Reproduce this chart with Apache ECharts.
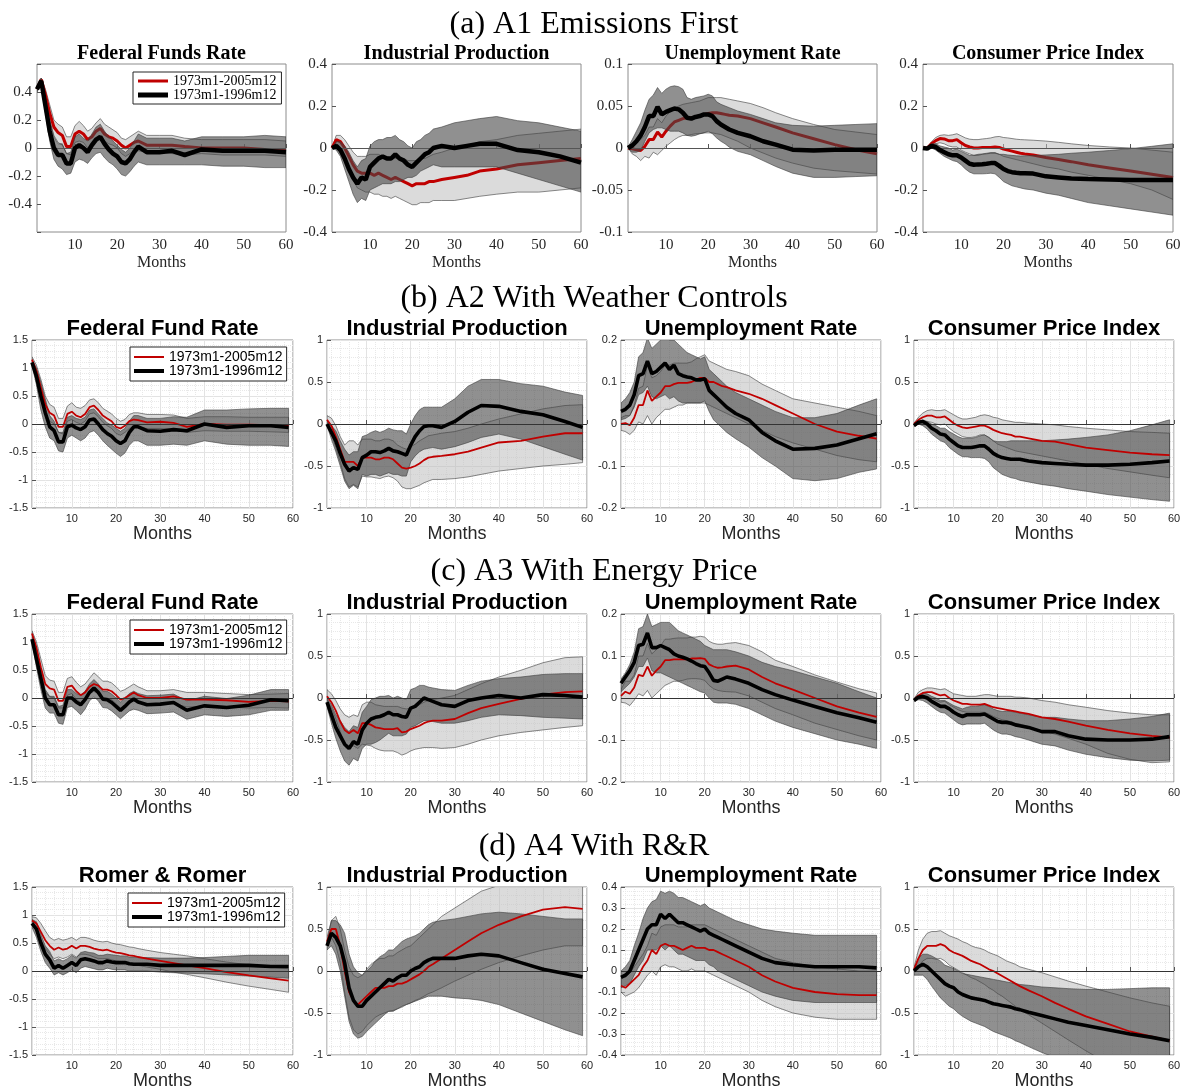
<!DOCTYPE html>
<html><head><meta charset="utf-8">
<script src="https://cdn.jsdelivr.net/npm/echarts@6/dist/echarts.min.js"></script>
<style>html,body{margin:0;padding:0;background:#fff}#c{width:1188px;height:1092px}</style>
</head><body><div id="c"></div>
<script>
// ---------- categories / labels ----------
const sectionTitles = ['(a) A1 Emissions First', '(b) A2 With Weather Controls', '(c) A3 With Energy Price', '(d) A4 With R&R'];
const panelTitles = [
  ['Federal Funds Rate', 'Industrial Production', 'Unemployment Rate', 'Consumer Price Index'],
  ['Federal Fund Rate', 'Industrial Production', 'Unemployment Rate', 'Consumer Price Index'],
  ['Federal Fund Rate', 'Industrial Production', 'Unemployment Rate', 'Consumer Price Index'],
  ['Romer & Romer', 'Industrial Production', 'Unemployment Rate', 'Consumer Price Index']
];
const seriesNames = ['1973m1-2005m12', '1973m1-1996m12'];
const xName = 'Months';
const yTicks = [
  [[-0.6, 0.6, 0.2], [-0.4, 0.4, 0.2], [-0.1, 0.1, 0.05], [-0.4, 0.4, 0.2]],
  [[-1.5, 1.5, 0.5], [-1, 1, 0.5], [-0.2, 0.2, 0.1], [-1, 1, 0.5]],
  [[-1.5, 1.5, 0.5], [-1, 1, 0.5], [-0.2, 0.2, 0.1], [-1, 1, 0.5]],
  [[-1.5, 1.5, 0.5], [-1, 1, 0.5], [-0.4, 0.4, 0.1], [-1, 1, 0.5]]
];
const monthsA = [1,2,3,4,5,6,7,8,9,10,11,12,13,14,15,16,17,18,19,20,21,22,23,24,25,27,30,33,36,40,45,50,55,60];
const monthsB = [1,2,3,4,5,6,7,8,9,10,11,12,13,14,15,16,17,18,19,20,21,22,23,24,25,27,30,33,36,40,45,50,55,59];

// ---------- (a) A1 ----------
const a1_red   = [0.42,0.49,0.38,0.25,0.15,0.11,0.09,0.01,0.01,0.10,0.12,0.10,0.06,0.08,0.12,0.14,0.10,0.08,0.07,0.05,0.02,0.00,0.02,0.04,0.05,0.02,0.02,0.02,0.01,0.00,0.00,0.00,-0.01,-0.01];
const a1_redLo = [0.41,0.47,0.33,0.20,0.09,0.04,0.02,-0.04,-0.05,0.04,0.05,0.04,0.00,0.03,0.06,0.08,0.05,0.03,0.02,0.00,-0.04,-0.06,-0.04,-0.02,-0.02,-0.03,-0.03,-0.04,-0.05,-0.04,-0.05,-0.05,-0.05,-0.06];
const a1_redHi = [0.43,0.50,0.42,0.31,0.20,0.17,0.15,0.08,0.08,0.16,0.19,0.16,0.12,0.14,0.18,0.21,0.17,0.15,0.13,0.11,0.07,0.06,0.08,0.10,0.12,0.09,0.09,0.09,0.07,0.06,0.06,0.06,0.06,0.05];
const a1_blk   = [0.42,0.48,0.30,0.12,0.00,-0.05,-0.05,-0.11,-0.11,0.00,0.02,0.00,-0.03,0.02,0.06,0.08,0.03,-0.01,-0.04,-0.06,-0.10,-0.11,-0.08,-0.03,0.01,-0.03,-0.03,-0.02,-0.05,-0.01,-0.02,-0.02,-0.02,-0.03];
const a1_blkLo = [0.40,0.46,0.25,0.05,-0.08,-0.13,-0.15,-0.19,-0.18,-0.10,-0.08,-0.09,-0.11,-0.07,-0.04,-0.03,-0.07,-0.10,-0.12,-0.15,-0.19,-0.20,-0.17,-0.13,-0.10,-0.12,-0.12,-0.12,-0.12,-0.12,-0.13,-0.13,-0.14,-0.14];
const a1_blkHi = [0.44,0.50,0.36,0.20,0.08,0.03,0.03,-0.04,-0.03,0.08,0.10,0.07,0.05,0.10,0.15,0.17,0.12,0.08,0.05,0.02,-0.01,-0.03,0.00,0.05,0.10,0.07,0.07,0.07,0.05,0.08,0.08,0.08,0.09,0.08];

const a2_red   = [0.00,0.04,0.03,0.00,-0.04,-0.08,-0.11,-0.12,-0.12,-0.12,-0.13,-0.12,-0.13,-0.14,-0.15,-0.14,-0.15,-0.16,-0.17,-0.18,-0.17,-0.17,-0.17,-0.16,-0.16,-0.15,-0.14,-0.13,-0.11,-0.10,-0.08,-0.07,-0.06,-0.05];
const a2_redLo = [0.00,0.02,0.00,-0.05,-0.10,-0.15,-0.19,-0.20,-0.21,-0.21,-0.22,-0.22,-0.23,-0.23,-0.24,-0.23,-0.24,-0.25,-0.26,-0.27,-0.27,-0.26,-0.26,-0.26,-0.25,-0.25,-0.25,-0.24,-0.23,-0.22,-0.21,-0.21,-0.20,-0.19];
const a2_redHi = [0.00,0.06,0.06,0.04,0.01,-0.02,-0.04,-0.04,-0.04,-0.03,-0.03,-0.03,-0.04,-0.04,-0.05,-0.05,-0.05,-0.05,-0.06,-0.06,-0.06,-0.05,-0.05,-0.04,-0.03,-0.02,0.00,0.01,0.03,0.04,0.06,0.07,0.08,0.09];
const a2_blk   = [0.00,0.01,-0.01,-0.05,-0.10,-0.14,-0.17,-0.14,-0.15,-0.09,-0.07,-0.05,-0.04,-0.05,-0.05,-0.03,-0.05,-0.06,-0.08,-0.09,-0.07,-0.05,-0.03,-0.02,0.00,0.01,0.00,0.01,0.02,0.02,-0.01,-0.02,-0.04,-0.07];
const a2_blkLo = [0.00,-0.01,-0.04,-0.10,-0.16,-0.22,-0.26,-0.24,-0.25,-0.20,-0.19,-0.18,-0.17,-0.17,-0.17,-0.16,-0.16,-0.15,-0.14,-0.14,-0.13,-0.11,-0.10,-0.09,-0.08,-0.09,-0.09,-0.09,-0.09,-0.09,-0.12,-0.15,-0.18,-0.21];
const a2_blkHi = [0.00,0.03,0.03,0.01,-0.02,-0.06,-0.09,-0.06,-0.05,0.01,0.03,0.04,0.04,0.05,0.05,0.06,0.04,0.03,0.01,0.00,0.03,0.04,0.06,0.07,0.09,0.10,0.12,0.13,0.14,0.15,0.13,0.12,0.10,0.08];

const a3_red   = [0.000,-0.001,-0.002,-0.003,0.002,0.010,0.010,0.019,0.013,0.020,0.026,0.031,0.033,0.035,0.036,0.036,0.037,0.038,0.040,0.041,0.042,0.042,0.041,0.040,0.039,0.038,0.035,0.030,0.025,0.018,0.011,0.004,-0.002,-0.007];
const a3_redLo = [0.000,-0.007,-0.010,-0.015,-0.010,-0.012,-0.005,-0.008,-0.003,0.002,0.006,0.010,0.013,0.015,0.015,0.016,0.017,0.017,0.018,0.018,0.018,0.017,0.016,0.014,0.012,0.008,0.000,-0.006,-0.012,-0.018,-0.024,-0.027,-0.029,-0.031];
const a3_redHi = [0.001,0.005,0.008,0.010,0.015,0.025,0.025,0.035,0.030,0.038,0.043,0.047,0.050,0.052,0.053,0.054,0.055,0.056,0.058,0.060,0.060,0.060,0.060,0.059,0.058,0.056,0.053,0.048,0.042,0.035,0.028,0.022,0.019,0.016];
const a3_blk   = [0.000,0.003,0.008,0.015,0.025,0.038,0.038,0.049,0.040,0.043,0.045,0.047,0.046,0.042,0.036,0.035,0.037,0.038,0.040,0.040,0.038,0.032,0.028,0.025,0.022,0.018,0.014,0.008,0.004,-0.002,-0.003,-0.002,-0.002,-0.002];
const a3_blkLo = [0.000,-0.005,-0.005,-0.003,0.008,0.018,0.022,0.024,0.024,0.022,0.020,0.020,0.020,0.018,0.015,0.014,0.015,0.017,0.018,0.020,0.017,0.012,0.008,0.005,0.001,-0.004,-0.008,-0.015,-0.022,-0.030,-0.035,-0.035,-0.034,-0.033];
const a3_blkHi = [0.001,0.010,0.020,0.030,0.045,0.058,0.063,0.072,0.065,0.070,0.073,0.074,0.073,0.070,0.060,0.058,0.060,0.061,0.062,0.064,0.062,0.055,0.052,0.050,0.048,0.044,0.040,0.035,0.030,0.027,0.026,0.027,0.028,0.029];

const a4_red   = [0.000,0.000,0.020,0.035,0.045,0.043,0.035,0.035,0.040,0.025,0.012,0.005,0.000,0.000,0.002,0.002,0.002,0.005,0.003,-0.005,-0.010,-0.015,-0.020,-0.025,-0.028,-0.033,-0.045,-0.055,-0.065,-0.080,-0.095,-0.110,-0.125,-0.140];
const a4_redLo = [0.000,-0.002,0.010,0.020,0.025,0.020,0.010,0.005,0.005,-0.010,-0.020,-0.028,-0.035,-0.035,-0.030,-0.028,-0.025,-0.025,-0.030,-0.040,-0.045,-0.050,-0.055,-0.060,-0.065,-0.075,-0.090,-0.100,-0.115,-0.130,-0.150,-0.170,-0.200,-0.245];
const a4_redHi = [0.000,0.005,0.030,0.050,0.060,0.063,0.060,0.063,0.068,0.058,0.048,0.042,0.040,0.040,0.043,0.045,0.048,0.053,0.055,0.050,0.048,0.045,0.042,0.040,0.039,0.037,0.033,0.027,0.020,0.012,0.005,0.000,-0.010,-0.020];
const a4_blk   = [0.000,-0.003,0.010,0.005,-0.010,-0.020,-0.030,-0.035,-0.035,-0.045,-0.060,-0.075,-0.080,-0.078,-0.077,-0.075,-0.072,-0.072,-0.085,-0.100,-0.110,-0.115,-0.118,-0.120,-0.120,-0.122,-0.135,-0.140,-0.145,-0.148,-0.150,-0.152,-0.152,-0.152];
const a4_blkLo = [0.000,-0.005,0.000,-0.010,-0.025,-0.040,-0.050,-0.060,-0.065,-0.080,-0.100,-0.115,-0.123,-0.123,-0.123,-0.122,-0.120,-0.123,-0.140,-0.160,-0.170,-0.180,-0.185,-0.190,-0.195,-0.200,-0.215,-0.225,-0.240,-0.260,-0.275,-0.290,-0.305,-0.320];
const a4_blkHi = [0.000,0.000,0.020,0.020,0.010,0.005,0.000,-0.010,-0.005,-0.015,-0.025,-0.035,-0.035,-0.030,-0.028,-0.025,-0.022,-0.022,-0.030,-0.030,-0.033,-0.035,-0.037,-0.038,-0.037,-0.036,-0.033,-0.030,-0.025,-0.020,-0.012,-0.003,0.008,0.020];

// ---------- (b) A2 ----------
const b1_red   = [1.15,0.95,0.65,0.35,0.20,0.15,-0.05,-0.05,0.18,0.22,0.15,0.12,0.18,0.30,0.33,0.25,0.15,0.10,0.05,-0.05,-0.08,-0.03,0.05,0.08,0.07,0.03,0.04,0.02,-0.05,0.00,-0.01,-0.01,-0.02,-0.02];
const b1_redLo = [1.10,0.85,0.50,0.20,0.05,0.00,-0.15,-0.18,0.05,0.08,0.03,0.00,0.05,0.18,0.20,0.13,0.03,-0.03,-0.08,-0.17,-0.20,-0.15,-0.08,-0.05,-0.05,-0.08,-0.08,-0.10,-0.15,-0.12,-0.13,-0.13,-0.14,-0.15];
const b1_redHi = [1.20,1.05,0.80,0.50,0.35,0.30,0.10,0.10,0.32,0.38,0.30,0.28,0.33,0.43,0.45,0.38,0.28,0.23,0.18,0.10,0.05,0.08,0.17,0.20,0.20,0.17,0.17,0.16,0.10,0.13,0.13,0.12,0.12,0.12];
const b1_blk   = [1.10,0.85,0.50,0.20,-0.05,-0.12,-0.32,-0.32,-0.05,-0.02,-0.07,-0.10,-0.05,0.07,0.09,0.00,-0.10,-0.17,-0.22,-0.30,-0.35,-0.30,-0.15,-0.05,-0.05,-0.12,-0.13,-0.10,-0.12,0.00,-0.06,-0.03,-0.03,-0.06];
const b1_blkLo = [1.05,0.70,0.25,-0.05,-0.25,-0.30,-0.48,-0.50,-0.25,-0.20,-0.25,-0.30,-0.25,-0.15,-0.12,-0.20,-0.30,-0.38,-0.45,-0.52,-0.58,-0.52,-0.38,-0.30,-0.30,-0.38,-0.38,-0.36,-0.38,-0.30,-0.36,-0.38,-0.38,-0.40];
const b1_blkHi = [1.15,1.00,0.75,0.45,0.15,0.05,-0.15,-0.15,0.12,0.15,0.10,0.08,0.12,0.25,0.27,0.18,0.10,0.02,-0.02,-0.08,-0.13,-0.08,0.05,0.15,0.15,0.10,0.10,0.13,0.12,0.25,0.25,0.27,0.28,0.28];

const b2_red   = [0.05,-0.02,-0.15,-0.30,-0.45,-0.45,-0.45,-0.50,-0.40,-0.40,-0.40,-0.42,-0.42,-0.40,-0.40,-0.42,-0.47,-0.52,-0.53,-0.52,-0.50,-0.47,-0.43,-0.40,-0.39,-0.38,-0.36,-0.33,-0.28,-0.22,-0.20,-0.15,-0.11,-0.11];
const b2_redLo = [0.00,-0.12,-0.28,-0.45,-0.65,-0.75,-0.72,-0.75,-0.62,-0.63,-0.63,-0.64,-0.65,-0.63,-0.62,-0.64,-0.68,-0.75,-0.77,-0.77,-0.75,-0.73,-0.70,-0.68,-0.66,-0.66,-0.65,-0.63,-0.60,-0.56,-0.53,-0.50,-0.48,-0.46];
const b2_redHi = [0.10,0.07,-0.02,-0.15,-0.25,-0.20,-0.20,-0.25,-0.18,-0.18,-0.18,-0.20,-0.20,-0.18,-0.18,-0.20,-0.25,-0.28,-0.30,-0.27,-0.24,-0.20,-0.17,-0.14,-0.13,-0.11,-0.09,-0.05,0.00,0.06,0.12,0.18,0.22,0.23];
const b2_blk   = [0.00,-0.10,-0.20,-0.35,-0.48,-0.56,-0.52,-0.54,-0.40,-0.37,-0.33,-0.33,-0.34,-0.32,-0.29,-0.32,-0.33,-0.35,-0.37,-0.25,-0.15,-0.08,-0.03,-0.02,-0.02,-0.04,0.03,0.14,0.22,0.21,0.15,0.11,0.03,-0.04];
const b2_blkLo = [-0.02,-0.18,-0.33,-0.50,-0.68,-0.77,-0.73,-0.77,-0.60,-0.62,-0.60,-0.60,-0.62,-0.60,-0.58,-0.60,-0.60,-0.62,-0.62,-0.45,-0.38,-0.33,-0.30,-0.29,-0.28,-0.30,-0.27,-0.22,-0.16,-0.12,-0.18,-0.27,-0.36,-0.43];
const b2_blkHi = [0.04,-0.02,-0.08,-0.20,-0.30,-0.37,-0.33,-0.33,-0.15,-0.13,-0.10,-0.08,-0.10,-0.08,-0.05,-0.07,-0.08,-0.08,-0.12,0.00,0.10,0.17,0.20,0.20,0.20,0.20,0.30,0.45,0.53,0.53,0.48,0.45,0.38,0.34];

const b3_red   = [0.000,0.002,-0.003,0.015,0.045,0.045,0.080,0.055,0.065,0.075,0.090,0.090,0.095,0.098,0.098,0.098,0.100,0.105,0.110,0.110,0.100,0.100,0.095,0.090,0.088,0.080,0.072,0.060,0.045,0.025,0.000,-0.018,-0.028,-0.035];
const b3_redLo = [-0.015,-0.018,-0.025,-0.015,0.005,0.000,0.020,0.000,0.015,0.025,0.035,0.035,0.040,0.045,0.045,0.050,0.050,0.050,0.050,0.050,0.045,0.040,0.035,0.030,0.025,0.015,0.000,-0.015,-0.030,-0.045,-0.060,-0.075,-0.085,-0.090];
const b3_redHi = [0.015,0.020,0.020,0.045,0.085,0.090,0.140,0.110,0.115,0.125,0.140,0.140,0.145,0.145,0.145,0.145,0.148,0.155,0.160,0.165,0.150,0.145,0.140,0.135,0.130,0.125,0.115,0.095,0.080,0.060,0.050,0.040,0.030,0.020];
const b3_blk   = [0.030,0.035,0.045,0.070,0.115,0.120,0.150,0.120,0.125,0.135,0.145,0.130,0.140,0.120,0.115,0.112,0.110,0.105,0.105,0.108,0.080,0.070,0.060,0.050,0.040,0.025,0.010,-0.020,-0.040,-0.060,-0.058,-0.050,-0.035,-0.023];
const b3_blkLo = [0.010,0.013,0.020,0.040,0.070,0.075,0.090,0.065,0.060,0.065,0.070,0.060,0.065,0.055,0.050,0.050,0.050,0.050,0.050,0.055,0.030,0.010,0.000,-0.010,-0.020,-0.035,-0.055,-0.080,-0.100,-0.130,-0.135,-0.130,-0.115,-0.107];
const b3_blkHi = [0.050,0.060,0.075,0.100,0.160,0.170,0.205,0.180,0.190,0.200,0.210,0.200,0.200,0.190,0.180,0.170,0.165,0.160,0.155,0.160,0.130,0.120,0.110,0.100,0.090,0.075,0.060,0.045,0.030,0.015,0.015,0.025,0.045,0.060];

const b4_red   = [0.00,0.05,0.08,0.10,0.10,0.08,0.08,0.09,0.05,0.01,-0.02,-0.04,-0.05,-0.04,-0.03,-0.02,-0.02,-0.04,-0.07,-0.09,-0.11,-0.12,-0.13,-0.15,-0.15,-0.17,-0.20,-0.21,-0.24,-0.28,-0.31,-0.34,-0.36,-0.37];
const b4_redLo = [-0.02,0.01,0.02,0.03,0.02,0.00,-0.01,0.00,-0.05,-0.09,-0.12,-0.15,-0.16,-0.16,-0.15,-0.13,-0.13,-0.16,-0.20,-0.24,-0.26,-0.28,-0.30,-0.32,-0.33,-0.35,-0.38,-0.41,-0.44,-0.48,-0.53,-0.57,-0.61,-0.64];
const b4_redHi = [0.01,0.08,0.13,0.16,0.17,0.16,0.16,0.17,0.14,0.11,0.08,0.06,0.06,0.07,0.08,0.10,0.11,0.10,0.08,0.07,0.05,0.04,0.03,0.02,0.02,0.01,0.00,-0.01,-0.03,-0.05,-0.07,-0.09,-0.10,-0.11];
const b4_blk   = [-0.02,0.02,0.03,0.00,-0.05,-0.08,-0.12,-0.13,-0.18,-0.22,-0.26,-0.28,-0.28,-0.28,-0.27,-0.26,-0.26,-0.30,-0.35,-0.38,-0.40,-0.41,-0.42,-0.42,-0.42,-0.44,-0.46,-0.47,-0.48,-0.49,-0.49,-0.48,-0.46,-0.44];
const b4_blkLo = [-0.03,0.00,-0.02,-0.06,-0.12,-0.16,-0.20,-0.22,-0.28,-0.32,-0.36,-0.39,-0.39,-0.40,-0.40,-0.40,-0.41,-0.45,-0.52,-0.56,-0.60,-0.62,-0.64,-0.65,-0.67,-0.69,-0.72,-0.74,-0.77,-0.80,-0.84,-0.87,-0.90,-0.92];
const b4_blkHi = [-0.01,0.03,0.05,0.03,0.00,-0.02,-0.05,-0.05,-0.09,-0.12,-0.15,-0.17,-0.17,-0.17,-0.16,-0.14,-0.13,-0.16,-0.20,-0.21,-0.21,-0.21,-0.20,-0.20,-0.20,-0.20,-0.20,-0.19,-0.18,-0.16,-0.13,-0.08,-0.01,0.05];

// ---------- (c) A3 ----------
const c1_red   = [1.15,0.90,0.55,0.25,0.17,0.15,-0.05,-0.05,0.20,0.22,0.12,0.05,0.10,0.20,0.25,0.22,0.15,0.15,0.12,0.05,-0.03,0.00,0.05,0.10,0.05,0.00,0.00,0.03,-0.03,-0.03,-0.04,-0.07,-0.05,-0.06];
const c1_redLo = [1.10,0.80,0.40,0.10,0.02,0.00,-0.18,-0.18,0.05,0.08,-0.02,-0.08,-0.02,0.08,0.12,0.08,0.00,0.00,-0.03,-0.10,-0.18,-0.13,-0.08,-0.04,-0.08,-0.12,-0.12,-0.10,-0.16,-0.15,-0.16,-0.18,-0.17,-0.18];
const c1_redHi = [1.20,1.00,0.70,0.40,0.32,0.30,0.10,0.10,0.35,0.38,0.28,0.20,0.25,0.35,0.45,0.38,0.30,0.30,0.27,0.20,0.12,0.15,0.20,0.25,0.20,0.13,0.13,0.15,0.10,0.10,0.08,0.06,0.07,0.08];
const c1_blk   = [1.05,0.70,0.35,0.00,-0.12,-0.12,-0.30,-0.30,0.00,0.00,-0.07,-0.12,-0.03,0.10,0.18,0.10,-0.02,-0.03,-0.08,-0.15,-0.22,-0.15,-0.07,-0.02,-0.07,-0.12,-0.11,-0.08,-0.22,-0.14,-0.17,-0.13,-0.03,-0.05];
const c1_blkLo = [1.00,0.55,0.15,-0.18,-0.27,-0.27,-0.45,-0.47,-0.17,-0.15,-0.22,-0.30,-0.20,-0.05,0.02,-0.05,-0.17,-0.18,-0.23,-0.30,-0.37,-0.30,-0.23,-0.20,-0.22,-0.28,-0.27,-0.25,-0.38,-0.30,-0.33,-0.30,-0.22,-0.22];
const c1_blkHi = [1.10,0.85,0.50,0.15,0.03,0.03,-0.15,-0.13,0.15,0.15,0.08,0.05,0.12,0.25,0.33,0.25,0.12,0.12,0.07,0.00,-0.07,0.00,0.08,0.12,0.08,0.04,0.05,0.07,-0.05,0.03,-0.01,0.05,0.15,0.15];

const c2_red   = [0.02,-0.05,-0.15,-0.28,-0.38,-0.42,-0.38,-0.42,-0.30,-0.30,-0.32,-0.35,-0.36,-0.37,-0.37,-0.37,-0.36,-0.41,-0.40,-0.37,-0.35,-0.33,-0.30,-0.28,-0.27,-0.27,-0.25,-0.18,-0.12,-0.07,-0.01,0.04,0.07,0.08];
const c2_redLo = [-0.02,-0.12,-0.25,-0.40,-0.55,-0.60,-0.57,-0.60,-0.55,-0.56,-0.57,-0.60,-0.62,-0.63,-0.63,-0.63,-0.65,-0.68,-0.66,-0.63,-0.61,-0.60,-0.59,-0.59,-0.59,-0.60,-0.59,-0.55,-0.50,-0.45,-0.41,-0.38,-0.35,-0.33];
const c2_redHi = [0.10,0.05,-0.03,-0.13,-0.20,-0.23,-0.20,-0.22,-0.08,-0.05,-0.05,-0.08,-0.09,-0.10,-0.10,-0.10,-0.10,-0.12,-0.13,-0.12,-0.10,-0.08,-0.05,-0.03,-0.02,0.00,0.03,0.10,0.17,0.25,0.33,0.42,0.48,0.49];
const c2_blk   = [-0.05,-0.20,-0.35,-0.45,-0.55,-0.60,-0.52,-0.55,-0.38,-0.30,-0.25,-0.23,-0.22,-0.20,-0.17,-0.20,-0.20,-0.22,-0.23,-0.12,-0.10,-0.05,0.00,-0.02,-0.04,-0.08,-0.10,-0.03,0.00,0.03,0.00,0.04,0.03,0.01];
const c2_blkLo = [-0.10,-0.30,-0.48,-0.63,-0.75,-0.80,-0.72,-0.75,-0.60,-0.55,-0.55,-0.53,-0.50,-0.46,-0.42,-0.45,-0.45,-0.45,-0.43,-0.35,-0.33,-0.30,-0.27,-0.27,-0.28,-0.30,-0.30,-0.27,-0.23,-0.20,-0.21,-0.23,-0.24,-0.25];
const c2_blkHi = [0.00,-0.08,-0.20,-0.27,-0.35,-0.40,-0.33,-0.35,-0.17,-0.10,-0.02,0.00,0.02,0.02,0.03,0.00,0.02,0.00,-0.02,0.10,0.12,0.15,0.15,0.13,0.12,0.10,0.09,0.15,0.20,0.23,0.25,0.28,0.29,0.29];

const c3_red   = [0.005,0.015,0.010,0.025,0.055,0.052,0.075,0.053,0.065,0.075,0.090,0.090,0.092,0.092,0.092,0.092,0.094,0.094,0.095,0.093,0.080,0.075,0.072,0.073,0.075,0.077,0.068,0.050,0.035,0.020,0.000,-0.020,-0.035,-0.045];
const c3_redLo = [-0.010,-0.012,-0.018,-0.005,0.010,0.005,0.018,0.000,0.010,0.020,0.030,0.035,0.040,0.040,0.042,0.045,0.046,0.046,0.045,0.042,0.030,0.022,0.018,0.016,0.015,0.014,0.005,-0.010,-0.025,-0.040,-0.060,-0.075,-0.090,-0.100];
const c3_redHi = [0.020,0.040,0.040,0.055,0.100,0.100,0.130,0.105,0.115,0.125,0.140,0.140,0.142,0.143,0.143,0.143,0.145,0.145,0.147,0.145,0.135,0.130,0.128,0.128,0.130,0.132,0.125,0.110,0.090,0.075,0.055,0.038,0.022,0.012];
const c3_blk   = [0.035,0.050,0.065,0.085,0.125,0.128,0.155,0.120,0.120,0.125,0.120,0.115,0.105,0.100,0.097,0.093,0.088,0.082,0.077,0.075,0.060,0.042,0.040,0.045,0.050,0.045,0.035,0.020,0.008,-0.005,-0.020,-0.035,-0.047,-0.058];
const c3_blkLo = [0.015,0.025,0.035,0.050,0.075,0.075,0.095,0.065,0.060,0.060,0.055,0.050,0.045,0.040,0.035,0.030,0.025,0.020,0.015,0.012,0.000,-0.010,-0.012,-0.012,-0.012,-0.015,-0.025,-0.040,-0.055,-0.070,-0.085,-0.100,-0.110,-0.120];
const c3_blkHi = [0.045,0.060,0.080,0.110,0.165,0.170,0.200,0.170,0.175,0.180,0.180,0.180,0.170,0.160,0.155,0.150,0.145,0.140,0.135,0.125,0.120,0.115,0.115,0.115,0.115,0.110,0.100,0.085,0.075,0.065,0.050,0.035,0.015,0.000];

const c4_red   = [-0.02,0.03,0.06,0.07,0.07,0.05,0.03,0.04,0.00,-0.03,-0.05,-0.07,-0.07,-0.08,-0.08,-0.08,-0.07,-0.09,-0.11,-0.12,-0.13,-0.14,-0.15,-0.16,-0.17,-0.19,-0.23,-0.25,-0.28,-0.33,-0.38,-0.42,-0.45,-0.47];
const c4_redLo = [-0.03,0.00,0.02,0.02,0.00,-0.03,-0.05,-0.04,-0.08,-0.11,-0.14,-0.16,-0.17,-0.17,-0.17,-0.17,-0.17,-0.19,-0.22,-0.24,-0.26,-0.27,-0.28,-0.30,-0.31,-0.34,-0.39,-0.43,-0.48,-0.55,-0.66,-0.73,-0.77,-0.76];
const c4_redHi = [-0.01,0.07,0.10,0.12,0.12,0.11,0.10,0.11,0.08,0.05,0.04,0.03,0.02,0.02,0.02,0.03,0.04,0.04,0.03,0.02,0.02,0.02,0.02,0.01,0.01,0.00,-0.03,-0.05,-0.08,-0.11,-0.15,-0.18,-0.20,-0.20];
const c4_blk   = [-0.03,0.01,0.02,0.00,-0.04,-0.07,-0.10,-0.10,-0.13,-0.17,-0.20,-0.22,-0.20,-0.20,-0.20,-0.20,-0.19,-0.22,-0.25,-0.28,-0.29,-0.29,-0.30,-0.32,-0.33,-0.35,-0.40,-0.40,-0.45,-0.49,-0.50,-0.50,-0.49,-0.46];
const c4_blkLo = [-0.04,-0.02,-0.03,-0.06,-0.10,-0.14,-0.17,-0.18,-0.22,-0.26,-0.30,-0.32,-0.31,-0.31,-0.31,-0.31,-0.30,-0.34,-0.38,-0.41,-0.43,-0.43,-0.44,-0.46,-0.47,-0.50,-0.55,-0.57,-0.62,-0.67,-0.71,-0.74,-0.75,-0.74];
const c4_blkHi = [-0.02,0.03,0.06,0.05,0.02,0.00,-0.03,-0.03,-0.06,-0.09,-0.11,-0.13,-0.11,-0.10,-0.10,-0.09,-0.08,-0.10,-0.13,-0.15,-0.16,-0.16,-0.16,-0.17,-0.18,-0.20,-0.23,-0.23,-0.25,-0.27,-0.27,-0.25,-0.22,-0.18];

// ---------- (d) A4 ----------
const d1_red   = [0.90,0.85,0.70,0.55,0.45,0.38,0.42,0.38,0.40,0.45,0.40,0.45,0.45,0.43,0.40,0.38,0.37,0.38,0.35,0.33,0.32,0.30,0.28,0.27,0.25,0.22,0.18,0.14,0.10,0.05,-0.02,-0.08,-0.13,-0.17];
const d1_redLo = [0.85,0.75,0.55,0.40,0.30,0.22,0.25,0.22,0.25,0.30,0.25,0.30,0.30,0.28,0.25,0.22,0.22,0.22,0.20,0.18,0.17,0.15,0.13,0.12,0.10,0.07,0.03,-0.02,-0.06,-0.12,-0.20,-0.27,-0.33,-0.38];
const d1_redHi = [0.97,0.95,0.85,0.72,0.60,0.55,0.58,0.55,0.57,0.60,0.55,0.60,0.60,0.58,0.55,0.53,0.52,0.53,0.50,0.48,0.47,0.45,0.43,0.42,0.40,0.37,0.33,0.30,0.27,0.22,0.16,0.11,0.07,0.04];
const d1_blk   = [0.85,0.75,0.50,0.30,0.20,0.05,0.10,0.05,0.10,0.15,0.10,0.20,0.22,0.20,0.18,0.15,0.15,0.18,0.16,0.15,0.15,0.15,0.13,0.12,0.12,0.12,0.10,0.10,0.10,0.10,0.10,0.10,0.08,0.08];
const d1_blkLo = [0.78,0.60,0.35,0.15,0.05,-0.07,-0.03,-0.07,-0.03,0.02,-0.03,0.05,0.08,0.06,0.04,0.02,0.02,0.05,0.03,0.02,0.02,0.02,0.00,0.00,0.00,0.00,-0.02,-0.03,-0.04,-0.05,-0.07,-0.09,-0.11,-0.13];
const d1_blkHi = [0.92,0.88,0.65,0.45,0.35,0.18,0.22,0.18,0.22,0.28,0.23,0.33,0.35,0.33,0.32,0.28,0.28,0.30,0.29,0.28,0.27,0.27,0.25,0.25,0.24,0.24,0.23,0.23,0.23,0.24,0.26,0.28,0.28,0.28];

const d2_red   = [0.35,0.50,0.50,0.30,0.00,-0.25,-0.35,-0.40,-0.35,-0.30,-0.25,-0.20,-0.20,-0.20,-0.18,-0.18,-0.15,-0.15,-0.13,-0.10,-0.07,-0.04,0.00,0.05,0.08,0.15,0.25,0.35,0.45,0.55,0.65,0.73,0.76,0.74];
const d2_redLo = [0.30,0.40,0.30,0.10,-0.25,-0.55,-0.70,-0.75,-0.72,-0.65,-0.60,-0.55,-0.52,-0.50,-0.48,-0.47,-0.45,-0.43,-0.40,-0.38,-0.35,-0.33,-0.30,-0.27,-0.25,-0.20,-0.12,-0.05,0.02,0.10,0.18,0.25,0.30,0.30];
const d2_redHi = [0.40,0.60,0.65,0.50,0.25,0.05,-0.05,-0.08,-0.05,0.02,0.08,0.12,0.15,0.15,0.18,0.18,0.22,0.25,0.28,0.30,0.35,0.40,0.45,0.50,0.55,0.65,0.75,0.85,0.95,1.02,1.08,1.12,1.12,1.10];
const d2_blk   = [0.30,0.45,0.40,0.30,0.10,-0.20,-0.35,-0.42,-0.42,-0.35,-0.30,-0.25,-0.20,-0.15,-0.10,-0.12,-0.08,-0.05,-0.05,0.00,0.03,0.05,0.10,0.13,0.15,0.15,0.15,0.18,0.20,0.18,0.10,0.02,-0.03,-0.07];
const d2_blkLo = [0.25,0.30,0.20,0.00,-0.30,-0.60,-0.75,-0.80,-0.78,-0.72,-0.67,-0.62,-0.57,-0.52,-0.48,-0.48,-0.45,-0.42,-0.40,-0.38,-0.36,-0.34,-0.32,-0.30,-0.30,-0.30,-0.32,-0.33,-0.35,-0.40,-0.50,-0.60,-0.70,-0.77];
const d2_blkHi = [0.35,0.60,0.60,0.55,0.45,0.20,0.05,-0.02,-0.05,0.00,0.05,0.12,0.17,0.20,0.25,0.25,0.30,0.35,0.38,0.40,0.42,0.45,0.50,0.55,0.58,0.60,0.62,0.65,0.68,0.70,0.68,0.65,0.62,0.62];

const d3_red   = [-0.07,-0.08,-0.06,-0.04,-0.02,0.02,0.05,0.10,0.08,0.12,0.13,0.12,0.12,0.11,0.10,0.11,0.12,0.11,0.11,0.11,0.10,0.10,0.09,0.08,0.07,0.05,0.02,-0.02,-0.05,-0.08,-0.10,-0.11,-0.115,-0.115];
const d3_redLo = [-0.10,-0.12,-0.11,-0.10,-0.08,-0.05,-0.02,0.00,-0.02,0.02,0.03,0.02,0.02,0.01,0.00,0.00,0.01,0.00,0.00,0.00,-0.01,-0.02,-0.03,-0.04,-0.05,-0.07,-0.10,-0.14,-0.17,-0.20,-0.22,-0.23,-0.23,-0.23];
const d3_redHi = [-0.03,-0.03,-0.01,0.02,0.05,0.08,0.12,0.18,0.17,0.21,0.22,0.22,0.22,0.21,0.21,0.21,0.22,0.22,0.22,0.22,0.21,0.20,0.19,0.18,0.17,0.15,0.12,0.09,0.06,0.04,0.02,0.01,0.00,0.00];
const d3_blk   = [-0.03,-0.02,0.00,0.05,0.10,0.15,0.20,0.22,0.22,0.27,0.25,0.27,0.25,0.23,0.23,0.22,0.21,0.20,0.19,0.20,0.18,0.17,0.16,0.15,0.14,0.12,0.09,0.06,0.04,0.03,0.02,0.02,0.02,0.015];
const d3_blkLo = [-0.08,-0.07,-0.06,-0.02,0.02,0.05,0.10,0.10,0.10,0.12,0.10,0.12,0.10,0.08,0.08,0.07,0.06,0.05,0.05,0.05,0.03,0.02,0.00,-0.01,-0.02,-0.04,-0.07,-0.10,-0.12,-0.14,-0.15,-0.15,-0.15,-0.15];
const d3_blkHi = [0.00,0.02,0.05,0.12,0.18,0.25,0.30,0.33,0.34,0.38,0.37,0.38,0.37,0.35,0.35,0.34,0.33,0.32,0.31,0.32,0.30,0.29,0.28,0.27,0.26,0.24,0.22,0.20,0.19,0.18,0.17,0.17,0.17,0.17];

const d4_red   = [0.02,0.15,0.25,0.30,0.30,0.30,0.32,0.30,0.25,0.22,0.20,0.18,0.15,0.12,0.10,0.08,0.05,0.02,0.00,-0.03,-0.06,-0.09,-0.12,-0.15,-0.18,-0.23,-0.30,-0.38,-0.45,-0.54,-0.63,-0.72,-0.78,-0.83];
const d4_redLo = [0.00,0.05,0.12,0.15,0.15,0.14,0.15,0.12,0.07,0.04,0.01,-0.02,-0.05,-0.08,-0.10,-0.13,-0.16,-0.20,-0.23,-0.27,-0.30,-0.34,-0.38,-0.42,-0.46,-0.52,-0.62,-0.72,-0.82,-0.95,-1.10,-1.20,-1.30,-1.35];
const d4_redHi = [0.04,0.25,0.38,0.45,0.47,0.47,0.48,0.45,0.42,0.40,0.38,0.35,0.33,0.30,0.28,0.27,0.25,0.22,0.20,0.18,0.15,0.12,0.10,0.08,0.05,0.02,-0.02,-0.07,-0.12,-0.18,-0.25,-0.32,-0.38,-0.42];
const d4_blk   = [0.00,0.05,0.08,0.05,0.00,-0.05,-0.10,-0.15,-0.18,-0.20,-0.25,-0.28,-0.30,-0.32,-0.33,-0.34,-0.35,-0.37,-0.39,-0.40,-0.41,-0.42,-0.43,-0.45,-0.46,-0.49,-0.53,-0.57,-0.61,-0.65,-0.70,-0.75,-0.79,-0.83];
const d4_blkLo = [-0.05,-0.05,-0.05,-0.10,-0.18,-0.25,-0.32,-0.37,-0.42,-0.45,-0.50,-0.54,-0.57,-0.60,-0.62,-0.64,-0.66,-0.69,-0.72,-0.74,-0.76,-0.78,-0.80,-0.83,-0.85,-0.90,-0.97,-1.03,-1.08,-1.15,-1.20,-1.25,-1.30,-1.35];
const d4_blkHi = [0.03,0.15,0.20,0.20,0.18,0.15,0.12,0.07,0.05,0.03,0.00,-0.03,-0.04,-0.05,-0.06,-0.07,-0.08,-0.09,-0.10,-0.11,-0.12,-0.13,-0.14,-0.15,-0.16,-0.17,-0.19,-0.20,-0.21,-0.22,-0.22,-0.21,-0.20,-0.20];

// ---------- assemble (table built from the named arrays) ----------
const panelData = [
  [[a1_red,a1_redLo,a1_redHi,a1_blk,a1_blkLo,a1_blkHi],[a2_red,a2_redLo,a2_redHi,a2_blk,a2_blkLo,a2_blkHi],[a3_red,a3_redLo,a3_redHi,a3_blk,a3_blkLo,a3_blkHi],[a4_red,a4_redLo,a4_redHi,a4_blk,a4_blkLo,a4_blkHi]],
  [[b1_red,b1_redLo,b1_redHi,b1_blk,b1_blkLo,b1_blkHi],[b2_red,b2_redLo,b2_redHi,b2_blk,b2_blkLo,b2_blkHi],[b3_red,b3_redLo,b3_redHi,b3_blk,b3_blkLo,b3_blkHi],[b4_red,b4_redLo,b4_redHi,b4_blk,b4_blkLo,b4_blkHi]],
  [[c1_red,c1_redLo,c1_redHi,c1_blk,c1_blkLo,c1_blkHi],[c2_red,c2_redLo,c2_redHi,c2_blk,c2_blkLo,c2_blkHi],[c3_red,c3_redLo,c3_redHi,c3_blk,c3_blkLo,c3_blkHi],[c4_red,c4_redLo,c4_redHi,c4_blk,c4_blkLo,c4_blkHi]],
  [[d1_red,d1_redLo,d1_redHi,d1_blk,d1_blkLo,d1_blkHi],[d2_red,d2_redLo,d2_redHi,d2_blk,d2_blkLo,d2_blkHi],[d3_red,d3_redLo,d3_redHi,d3_blk,d3_blkLo,d3_blkHi],[d4_red,d4_redLo,d4_redHi,d4_blk,d4_blkLo,d4_blkHi]]
];

// ---------- layout & style ----------
const SERIF = "'Liberation Serif','DejaVu Serif',serif";
const SANS = "'Liberation Sans','Helvetica','Arial',sans-serif";
const RED = '#c00000';
const LIGHT = 'rgba(190,190,190,0.55)';
const DARK = 'rgba(70,70,70,0.6)';
const rowTops = [64, 340, 614, 887];
const plotH = 168;
const colLefts = [[37, 332, 628, 923], [32, 327, 621, 914], [32, 327, 621, 914], [32, 327, 621, 914]];
const colWidths = [[249, 249, 249, 250], [261, 260, 260, 260], [261, 260, 260, 260], [261, 260, 260, 260]];
const secTitleTops = [9, 283, 556, 831];
const legendPos = [[133, 72], [130, 347], [130, 620], [128, 893]];

const chart = echarts.init(document.getElementById('c'), null, {width: 1188, height: 1092});
const grids = [], xAxes = [], yAxes = [], series = [], titles = [], legends = [];

function fmt(v) { return String(+(+v).toFixed(3)); }

function band(gi, X, lo, hi, fill, z) {
  return {
    type: 'custom', xAxisIndex: gi, yAxisIndex: gi, z: z, silent: true, clip: true,
    data: X.map((x, i) => [x, lo[i], hi[i]]),
    encode: {x: 0, y: [1, 2]},
    renderItem: function (params, api) {
      if (params.dataIndex !== 0) return;
      const pts = [];
      for (let i = 0; i < X.length; i++) pts.push(api.coord([X[i], lo[i]]));
      for (let i = X.length - 1; i >= 0; i--) pts.push(api.coord([X[i], hi[i]]));
      return {type: 'polygon', shape: {points: pts}, style: {fill: fill, stroke: '#3a3a3a', lineWidth: 0.6}};
    }
  };
}

for (let r = 0; r < 4; r++) {
  const isA = r === 0;
  const X = isA ? monthsA : monthsB;
  const font = isA ? SERIF : SANS;
  titles.push({text: sectionTitles[r], left: 594, top: secTitleTops[r], textAlign: 'center', padding: 0,
    textStyle: {fontFamily: SERIF, fontSize: 32, fontWeight: 'normal', color: '#000'}});
  for (let c = 0; c < 4; c++) {
    const gi = r * 4 + c;
    const left = colLefts[r][c], width = colWidths[r][c], top = rowTops[r];
    grids.push({left: left, top: top, width: width, height: plotH, show: true, borderColor: '#8c8c8c', borderWidth: 1});
    titles.push({text: panelTitles[r][c], left: left + width / 2, top: isA ? top - 20 : top - 22, textAlign: 'center', padding: 0,
      textStyle: {fontFamily: font, fontSize: isA ? 20 : 22, fontWeight: 'bold', color: '#000'}});
    const gridLine = {show: !isA, lineStyle: {color: '#e3e3e3', width: 1}};
    const minorLine = {show: !isA, lineStyle: {color: '#e8e8e8', width: 1, type: 'dotted'}};
    xAxes.push({
      type: 'value', gridIndex: gi, min: 1, max: 60, splitNumber: 5,
      axisLine: {show: false},
      axisTick: {show: true, inside: true, length: 4, lineStyle: {color: '#555'}},
      axisLabel: {showMinLabel: false, margin: isA ? 6 : 5, fontFamily: font, fontSize: isA ? 15 : 11, color: '#262626', formatter: fmt},
      splitLine: gridLine, minorTick: {show: false, splitNumber: 5}, minorSplitLine: minorLine,
      name: xName, nameLocation: 'middle', nameGap: isA ? 23 : 17,
      nameTextStyle: {fontFamily: font, fontSize: isA ? 16 : 18, color: '#262626'}
    });
    const yt = yTicks[r][c];
    const hideEdge = (r === 0 && c === 0);
    yAxes.push({
      type: 'value', gridIndex: gi, min: yt[0], max: yt[1], interval: yt[2],
      axisLine: {show: false},
      axisTick: {show: true, inside: true, length: 4, lineStyle: {color: '#555'}},
      axisLabel: {margin: isA ? 5 : 4, fontFamily: font, fontSize: isA ? 15 : 11, color: '#262626',
        formatter: v => (hideEdge && Math.abs(v) > 0.5) ? '' : fmt(v)},
      splitLine: gridLine, minorTick: {show: false, splitNumber: 5}, minorSplitLine: minorLine
    });
    const [red, redLo, redHi, blk, blkLo, blkHi] = panelData[r][c];
    series.push(band(gi, X, redLo, redHi, LIGHT, 1));
    series.push({
      type: 'line', name: seriesNames[0], xAxisIndex: gi, yAxisIndex: gi, z: isA ? 2 : 4, silent: true,
      showSymbol: false, symbol: 'none', color: RED, animation: false,
      lineStyle: {color: RED, width: isA ? 3 : 1.8},
      data: X.map((x, i) => [x, red[i]])
    });
    series.push(band(gi, X, blkLo, blkHi, DARK, 3));
    series.push({
      type: 'line', name: seriesNames[1], xAxisIndex: gi, yAxisIndex: gi, z: 6, silent: true,
      showSymbol: false, symbol: 'none', color: '#000', animation: false,
      lineStyle: {color: '#000', width: isA ? 4.5 : 3.6},
      data: X.map((x, i) => [x, blk[i]]),
      markLine: {silent: true, symbol: ['none', 'none'], animation: false, label: {show: false},
        lineStyle: {color: isA ? '#555' : '#333', width: 1, type: 'solid'}, data: [{yAxis: 0}]}
    });
  }
  const rw = isA ? 3 : 2, bw = isA ? 5 : 4;
  legends.push({
    left: legendPos[r][0], top: legendPos[r][1], orient: 'vertical', z: 10, selectedMode: false,
    padding: isA ? [2, 5, 2, 5] : [3, 4, 3, 4], itemGap: 0, itemWidth: 30, itemHeight: isA ? 14 : 15, itemTextGap: 5,
    backgroundColor: '#fff', borderColor: '#262626', borderWidth: 1,
    textStyle: {fontFamily: font, fontSize: 14, color: '#000'},
    data: [
      {name: seriesNames[0], icon: 'path://M0,0H30V' + rw + 'H0Z', itemStyle: {color: RED, borderWidth: 0}},
      {name: seriesNames[1], icon: 'path://M0,0H30V' + bw + 'H0Z', itemStyle: {color: '#000', borderWidth: 0}}
    ]
  });
}

chart.setOption({
  animation: false,
  backgroundColor: '#fff',
  title: titles, grid: grids, xAxis: xAxes, yAxis: yAxes, legend: legends, series: series
});
</script>
</body></html>
